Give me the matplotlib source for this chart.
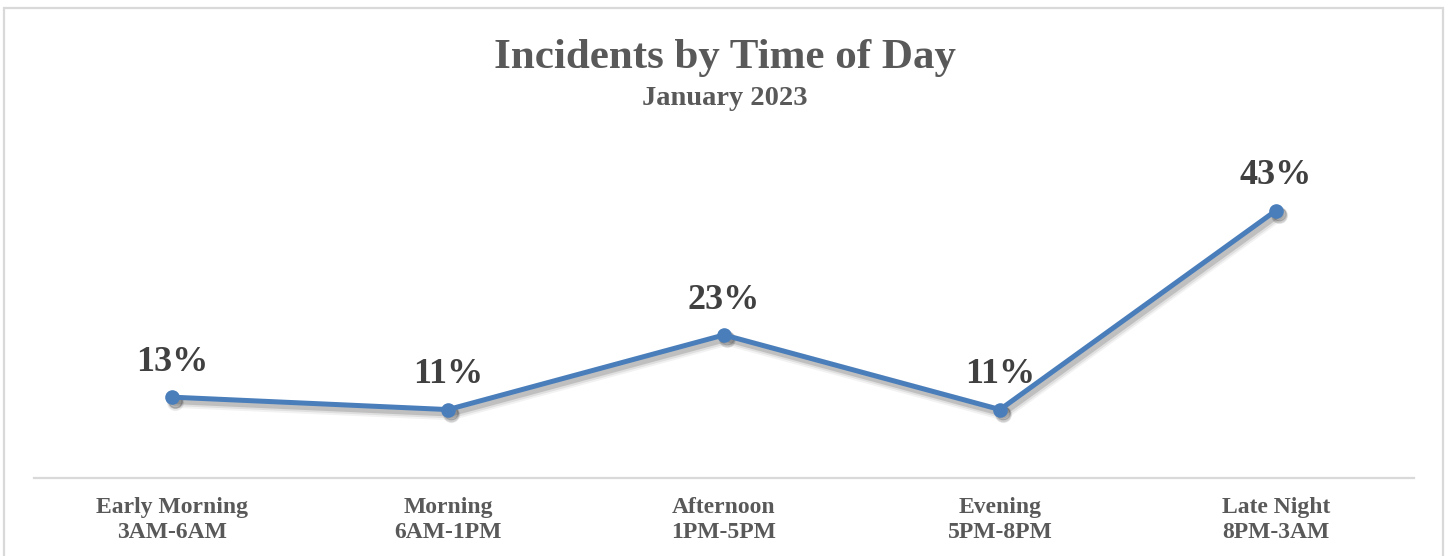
import matplotlib
matplotlib.use("Agg")
import matplotlib.pyplot as plt
import matplotlib.transforms as mtransforms
from matplotlib.patches import Rectangle

# Data
categories = ["Early Morning\n3AM-6AM", "Morning\n6AM-1PM", "Afternoon\n1PM-5PM",
              "Evening\n5PM-8PM", "Late Night\n8PM-3AM"]
shares = [0.13, 0.11, 0.23, 0.11, 0.43]
share_labels = ["13%", "11%", "23%", "11%", "43%"]

# Style
FONT = "Liberation Serif"
LINE = "#4A7EBB"
GRID = "#D9D9D9"
TEXT = "#595959"
LABEL = "#404040"

fig = plt.figure(figsize=(14.5, 5.56), dpi=100)
ax = fig.add_axes([34 / 1450, 1 - 478 / 556, 1380 / 1450, 311 / 556])

x = list(range(len(categories)))

# soft shadow under the line
for lw, a, dx, dy in [(9, 0.05, 3, -4.5), (7, 0.08, 3, -4), (5, 0.14, 2.5, -3.5)]:
    shadow_tr = mtransforms.offset_copy(ax.transData, fig=fig, x=dx, y=dy, units="dots")
    ax.plot(x, shares, color="black", lw=lw, alpha=a, transform=shadow_tr,
            solid_capstyle="round", solid_joinstyle="round", zorder=1)
    ax.plot(x, shares, ls="none", marker="o", ms=9 + (lw - 4) * 0.5, color="black",
            alpha=a, transform=shadow_tr, zorder=1)

ax.plot(x, shares, color=LINE, lw=3.6, marker="o", ms=9.5, mec=LINE, mfc=LINE,
        solid_joinstyle="round", zorder=3)

for xi, v, lab in zip(x, shares, share_labels):
    ax.annotate(lab, (xi, v), xytext=(0, 25), textcoords="offset points",
                ha="center", va="center", fontsize=26, fontweight="bold",
                color=LABEL, family=FONT, zorder=4)

ax.set_xlim(-0.5, len(categories) - 0.5)
ax.set_ylim(0, 0.5)
ax.set_yticks([])
ax.set_xticks(x)
ax.set_xticklabels(categories, fontsize=17, fontweight="bold", color=TEXT,
                   family=FONT, linespacing=1.2)
ax.tick_params(axis="x", length=0, pad=14)
for s in ["top", "right", "left"]:
    ax.spines[s].set_visible(False)
ax.spines["bottom"].set_color(GRID)
ax.spines["bottom"].set_linewidth(1.6)
ax.patch.set_alpha(0)

fig.text(0.5, 1 - 68 / 556, "Incidents by Time of Day", ha="center", va="baseline",
         fontsize=31, fontweight="bold", color=TEXT, family=FONT)
fig.text(0.5, 1 - 105 / 556, "January 2023", ha="center", va="baseline",
         fontsize=20.5, fontweight="bold", color=TEXT, family=FONT)

# chart frame
fig.patches.append(Rectangle((3.5 / 1450, -0.05), 1439.5 / 1450, 1.05 - 8 / 556,
                             transform=fig.transFigure, fill=False,
                             edgecolor=GRID, lw=1.6, zorder=0))

fig.savefig("out.png", dpi=100, facecolor="white")
